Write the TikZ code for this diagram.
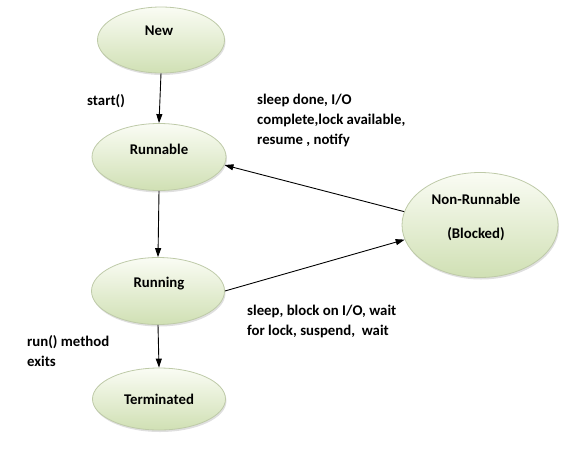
\documentclass[tikz,border=0pt]{standalone}
\usepackage{fontspec}
\setmainfont{Carlito}
\usepackage{tikz}
\usetikzlibrary{arrows.meta, positioning, shapes.geometric, shadows}
\definecolor{ellborder}{RGB}{190,202,168}
\definecolor{elltop}{RGB}{250,252,244}
\definecolor{ellmid}{RGB}{236,243,222}
\definecolor{ellbot}{RGB}{208,224,180}

\begin{document}
\begin{tikzpicture}[x=1pt,y=-1pt,
    stateell/.style={draw=ellborder,ellipse,line width=0.8pt,
        top color=elltop,middle color=ellmid,bottom color=ellbot,
        drop shadow={shadow xshift=1pt,shadow yshift=-2pt,opacity=0.25}},
    statetxt/.style={font=\bfseries\fontsize{14.8}{20}\selectfont,align=center},
    edgetxt/.style={font=\bfseries\fontsize{14.8}{20}\selectfont,align=left,anchor=north west,inner sep=0pt},
    arr/.style={-{Triangle[length=9pt,width=6pt]},line width=0.9pt}]
    \useasboundingbox (0,0) rectangle (575,453);

    % states
    \node[stateell,minimum width=127,minimum height=66] (new) at (161,40) {};
    \node[stateell,minimum width=134,minimum height=67] (runnable) at (159,157) {};
    \node[stateell,minimum width=133,minimum height=67] (running) at (158,291) {};
    \node[stateell,minimum width=133,minimum height=62] (terminated) at (159,399) {};
    \node[stateell,minimum width=156,minimum height=105] (blocked) at (480,225) {};

    % state names
    \node[statetxt] (newtxt) at (159,31) {New};
    \node[statetxt] (runnabletxt) at (159,149) {Runnable};
    \node[statetxt] (runningtxt) at (159,284) {Running};
    \node[statetxt] (terminatedtxt) at (159,399) {Terminated};
    \node[statetxt] (blockedtxt) at (476,217) {Non-Runnable\\[14pt](Blocked)};

    % transitions
    \draw[arr] (new.south) -- (runnable.north);
    \draw[arr] (runnable.south) -- (running.north);
    \draw[arr] (running.south) -- (terminated.north);
    \draw[arr] (running.east) -- (blocked.191);
    \draw[arr] (blocked.170) -- (runnable.-7);

    % transition labels
    \node[edgetxt] (starttxt) at (87,94) {start()};
    \node[edgetxt] (wakeuptxt) at (257,94) {sleep done, I/O\\complete,lock available,\\resume , notify};
    \node[edgetxt] (sleeptxt) at (247,305) {sleep, block on I/O, wait\\for lock, suspend,\ \ wait};
    \node[edgetxt] (exittxt) at (27,335) {run() method\\exits};
\end{tikzpicture}
\end{document}
